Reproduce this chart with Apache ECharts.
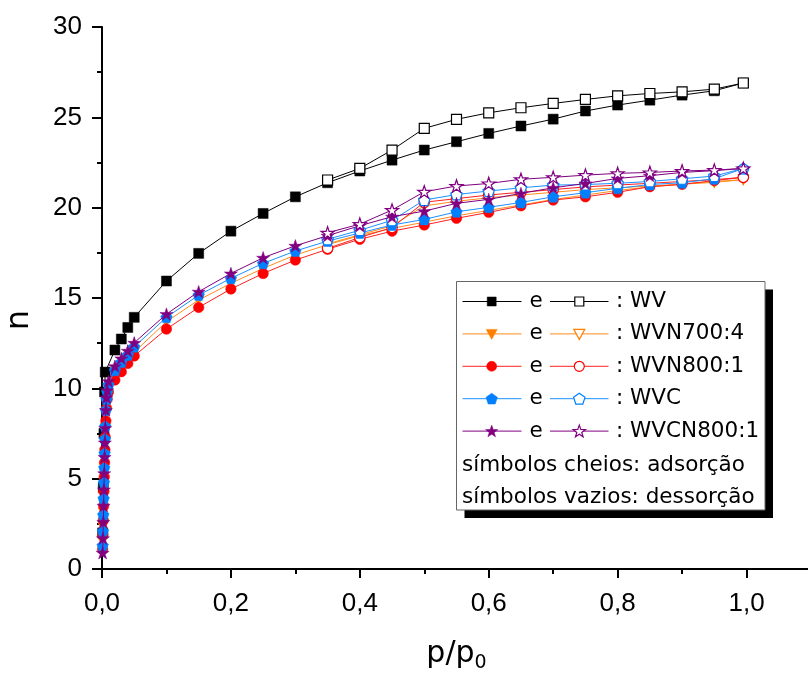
<!DOCTYPE html>
<html>
<head>
<meta charset="utf-8">
<script src="https://cdn.jsdelivr.net/npm/echarts@6/dist/echarts.min.js"></script>
<style>html,body{margin:0;padding:0;background:#fff;}#c{width:808px;height:673px;}</style>
</head>
<body>
<div id="c"></div>
<script>
// ---------- DATA ----------
const pAds = [0.001,0.0015,0.002,0.0025,0.003,0.0035,0.004,0.0045,0.005,0.006,0.007,0.008,0.01,
  0.02,0.03,0.04,0.05,0.1,0.15,0.2,0.25,0.3,0.35,0.4,0.45,0.5,0.55,0.6,0.65,0.7,0.75,0.8,0.85,0.9,0.95,0.995];
const pAdsWV = [0.001,0.002,0.003,0.004,0.005,0.02,0.03,0.04,0.05,0.1,0.15,0.2,0.25,0.3,0.35,0.4,0.45,0.5,0.55,0.6,0.65,0.7,0.75,0.8,0.85,0.9,0.95,0.995];
const pDes = [0.995,0.95,0.9,0.85,0.8,0.75,0.7,0.65,0.6,0.55,0.5,0.45,0.4,0.35];

const wvAds = [2.0,4.5,7.5,9.8,10.9,12.12,12.73,13.37,13.93,15.94,17.47,18.7,19.68,20.6,21.38,22.03,22.63,23.19,23.65,24.11,24.52,24.9,25.35,25.68,25.95,26.23,26.47,26.9];
const wvDes = [26.9,26.56,26.41,26.32,26.19,25.99,25.77,25.53,25.25,24.89,24.39,23.19,22.17,21.53];

const wvn700Ads = [1.5,2.3,3.1,4.0,4.8,5.6,6.4,7.1,7.8,8.6,9.2,9.6,10.0,
  10.8,11.2,11.6,12.0,13.69,14.89,15.81,16.64,17.38,17.95,18.45,18.85,19.2,19.55,19.85,20.15,20.45,20.7,20.95,21.15,21.3,21.45,21.55];
const wvn700Des = [21.55,21.4,21.3,21.2,21.1,21.0,20.85,20.7,20.55,20.35,20.1,19.0,18.5,18.0];

const wvn800Ads = [1.1,1.9,2.7,3.5,4.3,5.1,5.9,6.6,7.3,8.2,8.9,9.4,9.8,
  10.46,10.92,11.38,11.79,13.28,14.48,15.5,16.36,17.1,17.7,18.25,18.7,19.04,19.41,19.74,20.1,20.42,20.6,20.85,21.16,21.29,21.5,21.68];
const wvn800Des = [21.68,21.55,21.45,21.35,21.25,21.15,21.0,20.85,20.7,20.5,20.3,18.9,18.35,17.75];

const wvcAds = [1.3,2.1,3.0,3.9,4.8,5.6,6.4,7.2,7.9,8.8,9.4,9.8,10.2,
  11.0,11.45,11.85,12.3,13.93,15.16,16.09,16.92,17.6,18.15,18.6,19.04,19.35,19.77,20.02,20.29,20.6,20.83,21.07,21.28,21.38,21.6,22.17];
const wvcDes = [22.17,21.75,21.6,21.45,21.35,21.28,21.25,21.1,20.92,20.73,20.42,19.3,18.75,18.25];

const wvcn800Ads = [0.9,1.7,2.6,3.5,4.4,5.3,6.2,7.0,7.8,8.8,9.5,9.9,10.4,
  11.23,11.66,12.08,12.52,14.11,15.35,16.36,17.23,17.89,18.45,19.0,19.5,19.81,20.24,20.46,20.79,21.1,21.34,21.62,21.77,21.95,22.05,22.17];
const wvcn800Des = [22.17,22.08,22.03,21.95,21.9,21.8,21.68,21.57,21.34,21.2,20.88,19.87,19.09,18.61];

const xTicks = [0,0.2,0.4,0.6,0.8,1.0];
const yTicks = [0,5,10,15,20,25,30];
const legendNames = ['WV','WVN700:4','WVN800:1','WVC','WVCN800:1'];
const legendNote1 = 'símbolos cheios: adsorção';
const legendNote2 = 'símbolos vazios: dessorção';

// ---------- STYLE ----------
const STAR = 'path://M0,-10 L2.245,-3.09 L9.51,-3.09 L3.633,1.18 L5.88,8.09 L0,3.82 L-5.88,8.09 L-3.633,1.18 L-9.51,-3.09 L-2.245,-3.09 Z';
const PENT = 'path://M0,-10 L9.51,-3.09 L5.88,8.09 L-5.88,8.09 L-9.51,-3.09 Z';
const cols = ['#000000','#FF8000','#FF0000','#0080FF','#800080'];
const lineCols = ['#000000','#FF8C1A','#FF2020','#1E90FF','#800080'];
const syms = [
  {symbol:'rect', size:10, rot:0},
  {symbol:'triangle', size:10, rot:180},
  {symbol:'circle', size:10.5, rot:0},
  {symbol:PENT, size:11.5, rot:0},
  {symbol:STAR, size:13, rot:0}
];
const adsSets = [[pAdsWV,wvAds],[pAds,wvn700Ads],[pAds,wvn800Ads],[pAds,wvcAds],[pAds,wvcn800Ads]];
const desSets = [wvDes,wvn700Des,wvn800Des,wvcDes,wvcn800Des];

function zip(xs, ys){ return xs.map((x,i)=>[x, ys[i]]); }

const series = [];
for (let k=0;k<5;k++){
  const s = syms[k];
  series.push({
    type:'line', name: legendNames[k]+' ads', data: zip(adsSets[k][0], adsSets[k][1]),
    symbol:s.symbol, symbolSize:s.size, symbolRotate:s.rot, symbolKeepAspect:true, showAllSymbol:true,
    lineStyle:{color:lineCols[k], width:1},
    itemStyle:{color:cols[k], borderColor:cols[k], borderWidth:0.5},
    emphasis:{disabled:true}, z: 2+k*2
  });
  series.push({
    type:'line', name: legendNames[k]+' des', data: zip(pDes, desSets[k]),
    symbol:s.symbol, symbolSize:s.size, symbolRotate:s.rot, symbolKeepAspect:true, showAllSymbol:true,
    lineStyle:{color:lineCols[k], width:1},
    itemStyle:{color:'#ffffff', borderColor:cols[k], borderWidth:1.2},
    emphasis:{disabled:true}, z: 3+k*2
  });
}

// ---------- LEGEND (graphic) ----------
const g = [];
const bx = 456.5, by = 281.5, bw = 308.5, bh = 228.5;
g.push({type:'rect', shape:{x:bx+8, y:by+8, width:bw, height:bh}, style:{fill:'#000'}, z:100});
g.push({type:'rect', shape:{x:bx, y:by, width:bw, height:bh}, style:{fill:'#fff', stroke:'#666', lineWidth:1}, z:101});
function polyPts(cx, cy, r, n, inner, rot){
  const pts = [];
  const m = inner ? n*2 : n;
  for (let i=0;i<m;i++){
    const a = (rot||-Math.PI/2) + i*2*Math.PI/m;
    const rr = inner && (i%2===1) ? inner : r;
    pts.push([cx + rr*Math.cos(a), cy + rr*Math.sin(a)]);
  }
  return pts;
}
function legendSym(k, cx, cy, filled){
  const st = {fill: filled ? cols[k] : '#fff', stroke: cols[k], lineWidth: filled ? 0.5 : 1.2};
  if (k===0) return {type:'rect', shape:{x:cx-4.5,y:cy-4.5,width:9,height:9}, style:st, z:103};
  if (k===1) return {type:'polygon', shape:{points:[[cx-5.5,cy-4.5],[cx+5.5,cy-4.5],[cx,cy+5.5]]}, style:st, z:103};
  if (k===2) return {type:'circle', shape:{cx:cx, cy:cy, r:5}, style:st, z:103};
  if (k===3) return {type:'polygon', shape:{points:polyPts(cx,cy+0.5,6,5)}, style:st, z:103};
  return {type:'polygon', shape:{points:polyPts(cx,cy+0.5,6.5,5,2.6)}, style:st, z:103};
}
const rowH = 32.4;
const LF = '21.5px "DejaVu Sans"';
for (let k=0;k<5;k++){
  const y = by + 20 + k*rowH;
  g.push({type:'line', shape:{x1:462.5,y1:y,x2:521.5,y2:y}, style:{stroke:lineCols[k], lineWidth:1}, z:102});
  g.push(legendSym(k, 491.7, y, true));
  g.push({type:'text', x:536, y:y, style:{text:'e', font:LF, fill:'#000', align:'center', verticalAlign:'middle'}, z:103});
  g.push({type:'line', shape:{x1:550,y1:y,x2:608.5,y2:y}, style:{stroke:lineCols[k], lineWidth:1}, z:102});
  g.push(legendSym(k, 579.3, y, false));
  g.push({type:'text', x:616, y:y, style:{text:': '+legendNames[k], font:LF, fill:'#000', align:'left', verticalAlign:'middle'}, z:103});
}
g.push({type:'text', x:462, y:by+20+5*rowH+1.5, style:{text:legendNote1, font:LF, fill:'#000', align:'left', verticalAlign:'middle'}, z:103});
g.push({type:'text', x:462, y:by+20+6*rowH+1.5, style:{text:legendNote2, font:LF, fill:'#000', align:'left', verticalAlign:'middle'}, z:103});

// ---------- CHART ----------
const chart = echarts.init(document.getElementById('c'), null, {renderer:'canvas'});
const fmt = v => xTicks.some(t=>Math.abs(t-v)<1e-6) ? v.toFixed(1).replace('.', ',') : '';
const axisFont = {fontFamily:'Liberation Sans, Arial, sans-serif', fontSize:26, color:'#000'};
chart.setOption({
  animation:false,
  backgroundColor:'#fff',
  grid:{left:102, right:-3, top:27, bottom:104, containLabel:false, outerBoundsMode:'none'},
  xAxis:[{
    type:'value', min:0, max:1.1, interval:0.2, gridIndex:0,
    axisLine:{show:true, onZero:false, lineStyle:{color:'#000', width:2}},
    axisTick:{show:true, inside:false, length:9, lineStyle:{color:'#000', width:2}},
    minorTick:{show:false},
    splitLine:{show:false},
    axisLabel:Object.assign({margin:22, formatter:fmt, showMaxLabel:false}, axisFont),
    name:'{a|p/p}{b|0}', nameLocation:'middle', nameGap:70, nameMoveOverlap:false,
    nameTextStyle:{rich:{
      a:{fontFamily:'DejaVu Sans', fontSize:30, lineHeight:34, verticalAlign:'top', color:'#000'},
      b:{fontFamily:'DejaVu Sans', fontSize:19, lineHeight:19, padding:[33,0,0,0], verticalAlign:'bottom', color:'#000'}
    }}
  },{
    type:'value', min:0, max:1.1, interval:0.1, gridIndex:0, position:'bottom',
    axisLine:{show:false}, axisTick:{show:true, inside:false, length:5, lineStyle:{color:'#000', width:2}},
    axisLabel:{show:false}, splitLine:{show:false}
  }],
  yAxis:{
    type:'value', min:0, max:30, interval:5,
    axisLine:{show:true, onZero:false, lineStyle:{color:'#000', width:2}},
    axisTick:{show:true, inside:false, length:10, lineStyle:{color:'#000', width:2}},
    minorTick:{show:true, splitNumber:2, length:5, lineStyle:{color:'#000', width:2}},
    splitLine:{show:false},
    axisLabel:Object.assign({margin:20, formatter: v => yTicks.includes(v) ? String(v) : ''}, axisFont),
    name:'n', nameLocation:'middle', nameGap:66, nameMoveOverlap:false,
    nameTextStyle:{fontFamily:'DejaVu Sans', fontSize:32, color:'#000', padding:[0,44,0,0]}
  },
  series: series,
  graphic: g
});
</script>
</body>
</html>
